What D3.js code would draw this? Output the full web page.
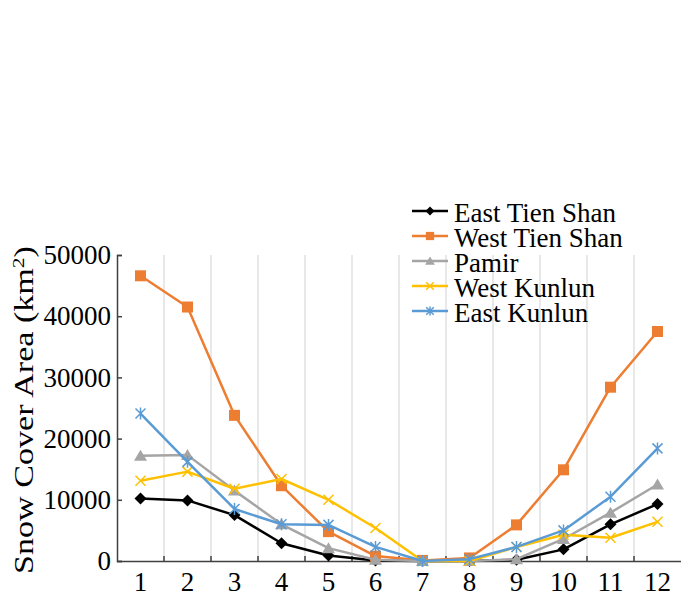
<!DOCTYPE html>
<html>
<head>
<meta charset="utf-8">
<script src="https://cdn.jsdelivr.net/npm/d3@7"></script>
<style>
  body { margin: 0; background: #fff; }
</style>
</head>
<body>
<svg id="chart"></svg>
<script>
const months = ['1','2','3','4','5','6','7','8','9','10','11','12'];
const yTicks = [0, 10000, 20000, 30000, 40000, 50000];

const eastTienShan = [10200, 9900, 7500, 2900, 900, 100, 0, 0, 200, 1900, 6000, 9300];
const westTienShan = [46600, 41500, 23800, 12300, 4800, 800, 100, 500, 5900, 14900, 28400, 37500];
const pamir = [17200, 17300, 11500, 6000, 2100, 200, 0, 0, 300, 3600, 7900, 12500];
const westKunlun = [13100, 14600, 11800, 13400, 10000, 5400, 0, 0, 2300, 4300, 3800, 6400];
const eastKunlun = [24100, 16200, 8500, 6000, 5900, 2300, 0, 300, 2300, 5000, 10500, 18400];

const series = [
  {name: 'East Tien Shan', values: eastTienShan, color: '#000000', marker: 'diamond'},
  {name: 'West Tien Shan', values: westTienShan, color: '#ED7D31', marker: 'square'},
  {name: 'Pamir', values: pamir, color: '#A5A5A5', marker: 'triangle'},
  {name: 'West Kunlun', values: westKunlun, color: '#FFC000', marker: 'x'},
  {name: 'East Kunlun', values: eastKunlun, color: '#5B9BD5', marker: 'star'}
];

const font = 'Liberation Serif';
const width = 681, height = 597;
const margin = {left: 117, right: 0, top: 255, bottom: 36};

const svg = d3.select('#chart').attr('width', width).attr('height', height);

const x = d3.scaleBand().domain(months).range([margin.left, width - margin.right]);
const y = d3.scaleLinear().domain([0, 50000]).range([height - margin.bottom, margin.top]);

// vertical gridlines at category boundaries
const bounds = months.slice(1).map(m => x(m));
svg.append('g').selectAll('line')
  .data(bounds)
  .enter().append('line')
    .attr('x1', d => d).attr('x2', d => d)
    .attr('y1', y(50000)).attr('y2', y(0))
    .attr('stroke', '#d9d9d9').attr('stroke-width', 1.2);

// y axis
const yAxis = d3.axisLeft(y).tickValues(yTicks).tickSize(-5).tickPadding(6).tickFormat(d3.format('d'));
const gy = svg.append('g').attr('transform', `translate(${margin.left},0)`).call(yAxis);
gy.select('.domain').attr('stroke', '#404040').attr('stroke-width', 1.5);
gy.selectAll('.tick line').attr('stroke', '#404040').attr('stroke-width', 1.5);
gy.selectAll('text').style('font-size', '27px').attr('fill', '#000').style('font-family', font);

// x axis
const xAxis = d3.axisBottom(x).tickSize(0).tickPadding(11);
const gx = svg.append('g').attr('transform', `translate(0,${y(0)})`).call(xAxis);
gx.select('.domain').attr('stroke', '#404040').attr('stroke-width', 1.5);
gx.selectAll('text').style('font-size', '27px').attr('fill', '#000').style('font-family', font);
// tick marks at boundaries, pointing up
gx.selectAll('.bt').data(bounds).enter().append('line')
  .attr('x1', d => d).attr('x2', d => d).attr('y1', 0).attr('y2', -5)
  .attr('stroke', '#404040').attr('stroke-width', 1.5);

// y title
const yt = svg.append('text')
  .attr('transform', `translate(33,${(y(0) + y(50000)) / 2 + 2}) rotate(-90)`)
  .attr('text-anchor', 'middle')
  .style('font-size', '27px')
  .style('font-family', font)
  .attr('fill', '#000');
yt.append('tspan').text('Snow Cover Area (km');
yt.append('tspan').attr('baseline-shift', 'super').style('font-size', '17px').text('2');
yt.append('tspan').text(')');
// stretch along its length to the reference extent
const ytLen = yt.node().getComputedTextLength();
yt.attr('transform', `translate(33,${(y(0) + y(50000)) / 2 + 2}) rotate(-90) scale(${328 / ytLen},1)`);

function drawMarker(g, type, color, k) {
  k = k || 1;
  if (type === 'diamond') {
    g.append('path').attr('d', `M0,${-6*k}L${6*k},0L0,${6*k}L${-6*k},0Z`).attr('fill', color);
  } else if (type === 'square') {
    g.append('rect').attr('x', -5.5*k).attr('y', -5.5*k).attr('width', 11*k).attr('height', 11*k).attr('fill', color);
  } else if (type === 'triangle') {
    g.append('path').attr('d', `M0,${-6*k}L${6.5*k},${5*k}L${-6.5*k},${5*k}Z`).attr('fill', color);
  } else if (type === 'x') {
    g.append('path').attr('d', `M${-5*k},${-5*k}L${5*k},${5*k}M${-5*k},${5*k}L${5*k},${-5*k}`).attr('stroke', color).attr('stroke-width', 1.5).attr('fill', 'none');
  } else if (type === 'star') {
    g.append('path').attr('d', `M${-5*k},${-5*k}L${5*k},${5*k}M${-5*k},${5*k}L${5*k},${-5*k}M0,${-6*k}L0,${6*k}`).attr('stroke', color).attr('stroke-width', 1.5).attr('fill', 'none');
  }
}

const line = d3.line()
  .x((d, i) => x(months[i]) + x.bandwidth() / 2)
  .y(d => y(d));

series.forEach(s => {
  svg.append('path')
    .datum(s.values)
    .attr('d', line)
    .attr('fill', 'none')
    .attr('stroke', s.color)
    .attr('stroke-width', 2.5)
    .attr('stroke-linejoin', 'round');
  s.values.forEach((v, i) => {
    const g = svg.append('g').attr('transform', `translate(${x(months[i]) + x.bandwidth() / 2},${y(v)})`);
    drawMarker(g, s.marker, s.color);
  });
});

// legend
const legend = svg.append('g').attr('transform', 'translate(412,211)');
series.forEach((s, i) => {
  const row = legend.append('g').attr('transform', `translate(0,${i * 25})`);
  row.append('line').attr('x1', 0).attr('x2', 36).attr('y1', 0).attr('y2', 0)
    .attr('stroke', s.color).attr('stroke-width', 2.5);
  const m = row.append('g').attr('transform', 'translate(18,0)');
  drawMarker(m, s.marker, s.color, 0.75);
  row.append('text').attr('x', 42).attr('y', 11)
    .style('font-size', '27px').style('font-family', font)
    .attr('fill', '#000').text(s.name);
});
</script>
</body>
</html>
